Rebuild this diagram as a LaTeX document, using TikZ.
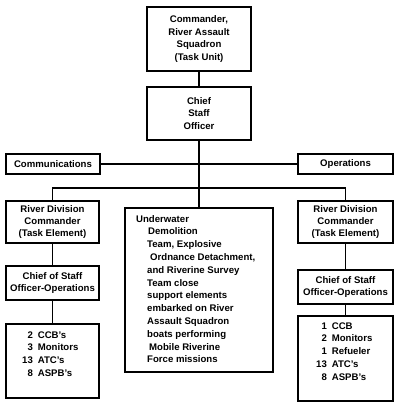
\documentclass[tikz,border=0pt]{standalone}
\usepackage{fontspec}
\setmainfont{Liberation Sans}
\begin{document}
\begin{tikzpicture}[x=1pt,y=-1pt,
  box/.style={draw,line width=1.1pt,inner sep=0pt,align=center,font=\bfseries\fontsize{9.6}{12.4}\selectfont},
  txt/.style={inner sep=0pt,font=\bfseries\fontsize{9.6}{12.8}\selectfont},
  conn/.style={line width=1.1pt}]
\useasboundingbox (0,0) rectangle (400,404);
\node[box,minimum width=104pt,minimum height=64pt] (cmd) at (199,39) {Commander,\\River Assault\\Squadron\\(Task Unit)};
\node[box,minimum width=104pt,minimum height=53pt] (cso) at (199,113.5) {Chief\\Staff\\Officer};
\node[box,minimum width=94pt,minimum height=20pt] (comm) at (53,164) {Communications};
\node[box,minimum width=95pt,minimum height=20pt] (ops) at (345.5,164) {Operations};
\node[box,minimum width=93pt,minimum height=42pt] (rdl) at (52.5,222) {River Division\\Commander\\(Task Element)};
\node[box,minimum width=95pt,minimum height=42pt] (rdr) at (345.5,222) {River Division\\Commander\\(Task Element)};
\node[box,minimum width=93pt,minimum height=34pt] (csl) at (52.5,283) {Chief of Staff\\Officer-Operations};
\node[box,minimum width=95pt,minimum height=34pt] (csr) at (345.5,287) {Chief of Staff\\Officer-Operations};
\node[box,minimum width=93pt,minimum height=74pt] (boatl) at (52.5,361) {};
\node[box,minimum width=95pt,minimum height=85pt] (boatr) at (345.5,358.5) {};
\node[box,minimum width=148pt,minimum height=164pt] (mid) at (199,290) {};
\node[txt,anchor=north west,align=left] (midtxt) at (136,215) {Underwater\\
\hspace*{12pt}Demolition\\
\hspace*{11pt}Team, Explosive\\
\hspace*{14pt}Ordnance Detachment,\\
\hspace*{11pt}and Riverine Survey\\
\hspace*{11pt}Team close\\
\hspace*{11pt}support elements\\
\hspace*{11pt}embarked on River\\
\hspace*{11pt}Assault Squadron\\
\hspace*{11pt}boats performing\\
\hspace*{13pt}Mobile Riverine\\
\hspace*{11pt}Force missions};
\node[txt,anchor=north west] (boatltxt) at (22,329) {\begin{tabular}{@{}r@{\hspace{5pt}}l@{}}2&CCB's\\3&Monitors\\13&ATC's\\8&ASPB's\end{tabular}};
\node[txt,anchor=north west] (boatrtxt) at (316,320) {\begin{tabular}{@{}r@{\hspace{5pt}}l@{}}1&CCB\\2&Monitors\\1&Refueler\\13&ATC's\\8&ASPB's\end{tabular}};
\draw[conn] (cmd) -- (cso);
\draw[conn] (cso) -- (mid);
\draw[conn] (comm) -- (ops);
\draw[conn] (rdl.north) -- (rdl.north |- 0,188) -- (rdr.north |- 0,188) -- (rdr.north);
\draw[conn] (rdl) -- (csl);
\draw[conn] (csl) -- (boatl);
\draw[conn] (rdr) -- (csr);
\draw[conn] (csr) -- (boatr);
\end{tikzpicture}
\end{document}
